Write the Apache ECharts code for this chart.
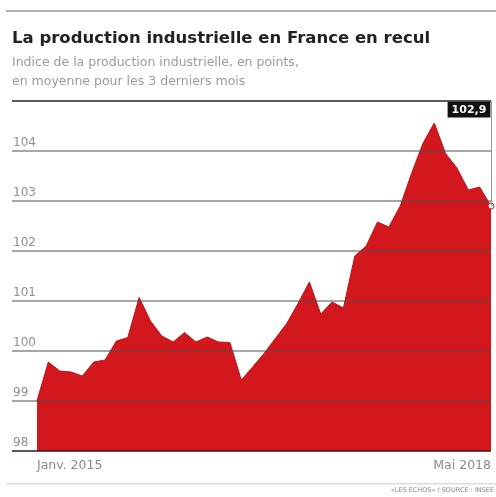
<!DOCTYPE html>
<html><head><meta charset="utf-8">
<script src="https://cdn.jsdelivr.net/npm/echarts@6/dist/echarts.min.js"></script>
<style>html,body{margin:0;padding:0;background:#fff}#c{width:496px;height:497px}</style>
</head><body><div id="c"></div>
<script>
// Monthly index, Jan 2015 .. May 2018 (3-month moving average)
const months = ['2015-01','2015-02','2015-03','2015-04','2015-05','2015-06','2015-07','2015-08','2015-09','2015-10','2015-11','2015-12',
  '2016-01','2016-02','2016-03','2016-04','2016-05','2016-06','2016-07','2016-08','2016-09','2016-10','2016-11','2016-12',
  '2017-01','2017-02','2017-03','2017-04','2017-05','2017-06','2017-07','2017-08','2017-09','2017-10','2017-11','2017-12',
  '2018-01','2018-02','2018-03','2018-04','2018-05'];
const values = [99.0, 99.78, 99.6, 99.58, 99.5, 99.78, 99.82, 100.2, 100.27, 101.07, 100.6, 100.3,
  100.18, 100.37, 100.18, 100.28, 100.18, 100.17, 99.42, 99.68, 99.95, 100.25, 100.55, 100.95,
  101.38, 100.74, 100.98, 100.86, 101.9, 102.1, 102.58, 102.48, 102.9, 103.55, 104.15, 104.56,
  103.95, 103.66, 103.22, 103.28, 102.9];
const xTickIndex = [0, 40];
const xTickLabels = ['Janv. 2015', 'Mai 2018'];
const yTicks = [98, 99, 100, 101, 102, 103, 104];

const FONT = 'DejaVu Sans';
const last = values.length - 1;
const seriesData = values.map((v, i) => {
  if (i !== last) return [i, v];
  return {
    value: [i, v],
    symbol: 'circle', symbolSize: 6,
    itemStyle: {color: '#fff', borderColor: '#d2171d', borderWidth: 1},
    label: {
      show: true, position: 'top', distance: 85, offset: [-22, 0],
      formatter: (p) => p.value[1].toFixed(1).replace('.', ','),
      backgroundColor: '#111', color: '#fff', fontFamily: FONT, fontWeight: 'bold', fontSize: 11,
      padding: [3, 4, 2, 4]
    }
  };
});

const chart = echarts.init(document.getElementById('c'), null, {renderer: 'canvas'});
chart.setOption({
  animation: false,
  backgroundColor: '#fff',
  title: {
    text: 'La production industrielle en France en recul',
    subtext: 'Indice de la production industrielle, en points,\nen moyenne pour les 3 derniers mois',
    left: 7, top: 25, itemGap: 6,
    textStyle: {fontFamily: FONT, fontWeight: 'bold', fontSize: 16.5, color: '#222'},
    subtextStyle: {fontFamily: FONT, fontSize: 12.5, color: '#9a9a9a', lineHeight: 19}
  },
  grid: {left: 12, right: 5, top: 101, bottom: 46},
  xAxis: {
    type: 'value', min: -2.2, max: 40,
    axisLine: {show: false}, axisTick: {show: false}, splitLine: {show: false},
    axisLabel: {
      customValues: xTickIndex, margin: 8,
      formatter: (v) => xTickLabels[xTickIndex.indexOf(v)] || '',
      align: 'left', alignMinLabel: 'left', alignMaxLabel: 'right',
      fontFamily: FONT, fontSize: 12.5, color: '#8a8a8a'
    }
  },
  yAxis: {
    type: 'value', min: 98, max: 105, interval: 1, z: 5,
    axisLine: {show: false}, axisTick: {show: false},
    axisLabel: {
      inside: true, margin: 1, verticalAlign: 'bottom', padding: [0, 0, 2, 0],
      formatter: (v) => yTicks.indexOf(v) >= 0 ? String(v) : '',
      fontFamily: FONT, fontSize: 12, color: '#8f8f8f'
    },
    splitLine: {lineStyle: {width: 2, color: ['rgba(60,20,20,0.75)', 'rgba(80,80,80,0.5)', 'rgba(80,80,80,0.5)', 'rgba(80,80,80,0.5)', 'rgba(80,80,80,0.5)', 'rgba(80,80,80,0.5)', 'rgba(80,80,80,0.5)', 'rgba(50,50,50,0.8)']}}
  },
  series: [{
    type: 'line', data: seriesData, showSymbol: true, symbol: 'none',
    lineStyle: {color: '#b8141b', width: 1},
    areaStyle: {color: '#d2171d', opacity: 1, origin: 'start'},
    markLine: {
      silent: true, symbol: 'none', label: {show: false},
      lineStyle: {color: '#999', width: 1, type: 'solid'},
      data: [[{coord: [last, values[last]]}, {coord: [last, 105]}]]
    }
  }],
  graphic: [
    {type: 'rect', shape: {x: 6, y: 10, width: 490, height: 2}, style: {fill: '#b0b0b0'}},
    {type: 'rect', shape: {x: 6, y: 483, width: 490, height: 1.5}, style: {fill: '#dcdcdc'}},
    {type: 'text', right: 2, top: 487, style: {text: '«LES ÉCHOS» / SOURCE : INSEE', fontFamily: FONT, fontSize: 6.5, fill: '#888'}}
  ]
});
</script></body></html>
